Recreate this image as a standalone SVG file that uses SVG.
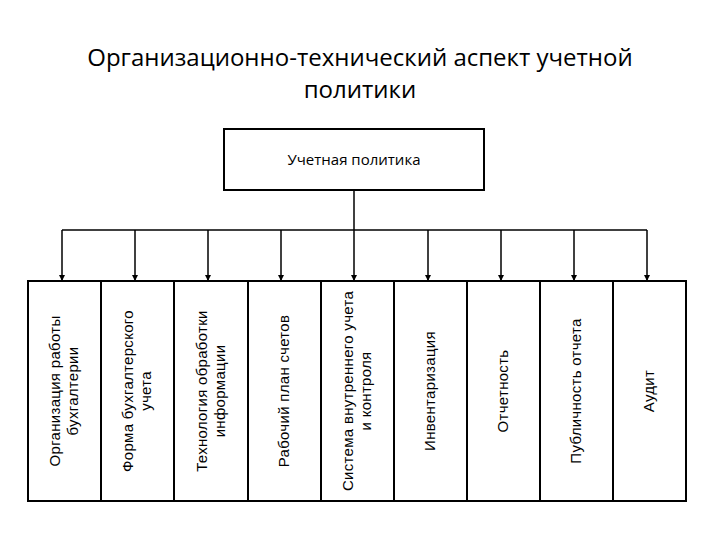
<svg xmlns="http://www.w3.org/2000/svg" width="720" height="540" viewBox="0 0 720 540">
<style>
.t{font-family:"Open Sans","Liberation Sans",sans-serif;fill:#000}
.b{fill:#fff;stroke:#000;stroke-width:2}
.c{stroke:#000;stroke-width:1.5;fill:none}
.v{font-family:"Liberation Sans",Arial,sans-serif;font-size:15px;letter-spacing:0.3px;text-anchor:middle;fill:#000}
</style>
<defs><marker id="a" viewBox="0 0 6 6" refX="5" refY="3" markerWidth="4" markerHeight="4" orient="auto"><path d="M0,0L6,3L0,6z"/></marker></defs>
<rect width="720" height="540" fill="#fff"/>
<text class="t" font-size="24" text-anchor="middle" x="360" y="66">Организационно-технический аспект учетной</text>
<text class="t" font-size="24" text-anchor="middle" x="360" y="98">политики</text>
<g id="top"><rect class="b" x="224" y="129" width="260" height="61"/><text class="t" font-size="15" text-anchor="middle" x="354" y="165">Учетная политика</text></g>
<g id="connectors" class="c">
<line x1="354" y1="190" x2="354" y2="280" marker-end="url(#a)"/>
<line x1="62" y1="230" x2="647" y2="230"/>
<line x1="62" y1="230" x2="62" y2="280" marker-end="url(#a)"/>
<line x1="135" y1="230" x2="135" y2="280" marker-end="url(#a)"/>
<line x1="208" y1="230" x2="208" y2="280" marker-end="url(#a)"/>
<line x1="281" y1="230" x2="281" y2="280" marker-end="url(#a)"/>
<line x1="428" y1="230" x2="428" y2="280" marker-end="url(#a)"/>
<line x1="501" y1="230" x2="501" y2="280" marker-end="url(#a)"/>
<line x1="574" y1="230" x2="574" y2="280" marker-end="url(#a)"/>
<line x1="647" y1="230" x2="647" y2="280" marker-end="url(#a)"/>
</g>
<g id="n1"><rect class="b" x="28" y="281" width="73" height="220"/><text class="v" transform="translate(64,391) rotate(-90)"><tspan x="0" y="-4">Организация работы</tspan><tspan x="0" y="14">бухгалтерии</tspan></text></g>
<g id="n2"><rect class="b" x="101" y="281" width="73" height="220"/><text class="v" transform="translate(137,391) rotate(-90)"><tspan x="0" y="-4">Форма бухгалтерского</tspan><tspan x="0" y="14">учета</tspan></text></g>
<g id="n3"><rect class="b" x="174" y="281" width="74" height="220"/><text class="v" transform="translate(211,391) rotate(-90)"><tspan x="0" y="-4">Технология обработки</tspan><tspan x="0" y="14">информации</tspan></text></g>
<g id="n4"><rect class="b" x="248" y="281" width="73" height="220"/><text class="v" transform="translate(284,391) rotate(-90)"><tspan x="0" y="5">Рабочий план счетов</tspan></text></g>
<g id="n5"><rect class="b" x="321" y="281" width="73" height="220"/><text class="v" transform="translate(357,391) rotate(-90)"><tspan x="0" y="-4">Система внутреннего учета</tspan><tspan x="0" y="14">и контроля</tspan></text></g>
<g id="n6"><rect class="b" x="394" y="281" width="73" height="220"/><text class="v" transform="translate(430,391) rotate(-90)"><tspan x="0" y="5">Инвентаризация</tspan></text></g>
<g id="n7"><rect class="b" x="467" y="281" width="73" height="220"/><text class="v" transform="translate(503,391) rotate(-90)"><tspan x="0" y="5">Отчетность</tspan></text></g>
<g id="n8"><rect class="b" x="540" y="281" width="73" height="220"/><text class="v" transform="translate(576,391) rotate(-90)"><tspan x="0" y="5">Публичность отчета</tspan></text></g>
<g id="n9"><rect class="b" x="613" y="281" width="73" height="220"/><text class="v" transform="translate(649,391) rotate(-90)"><tspan x="0" y="5">Аудит</tspan></text></g>
</svg>
